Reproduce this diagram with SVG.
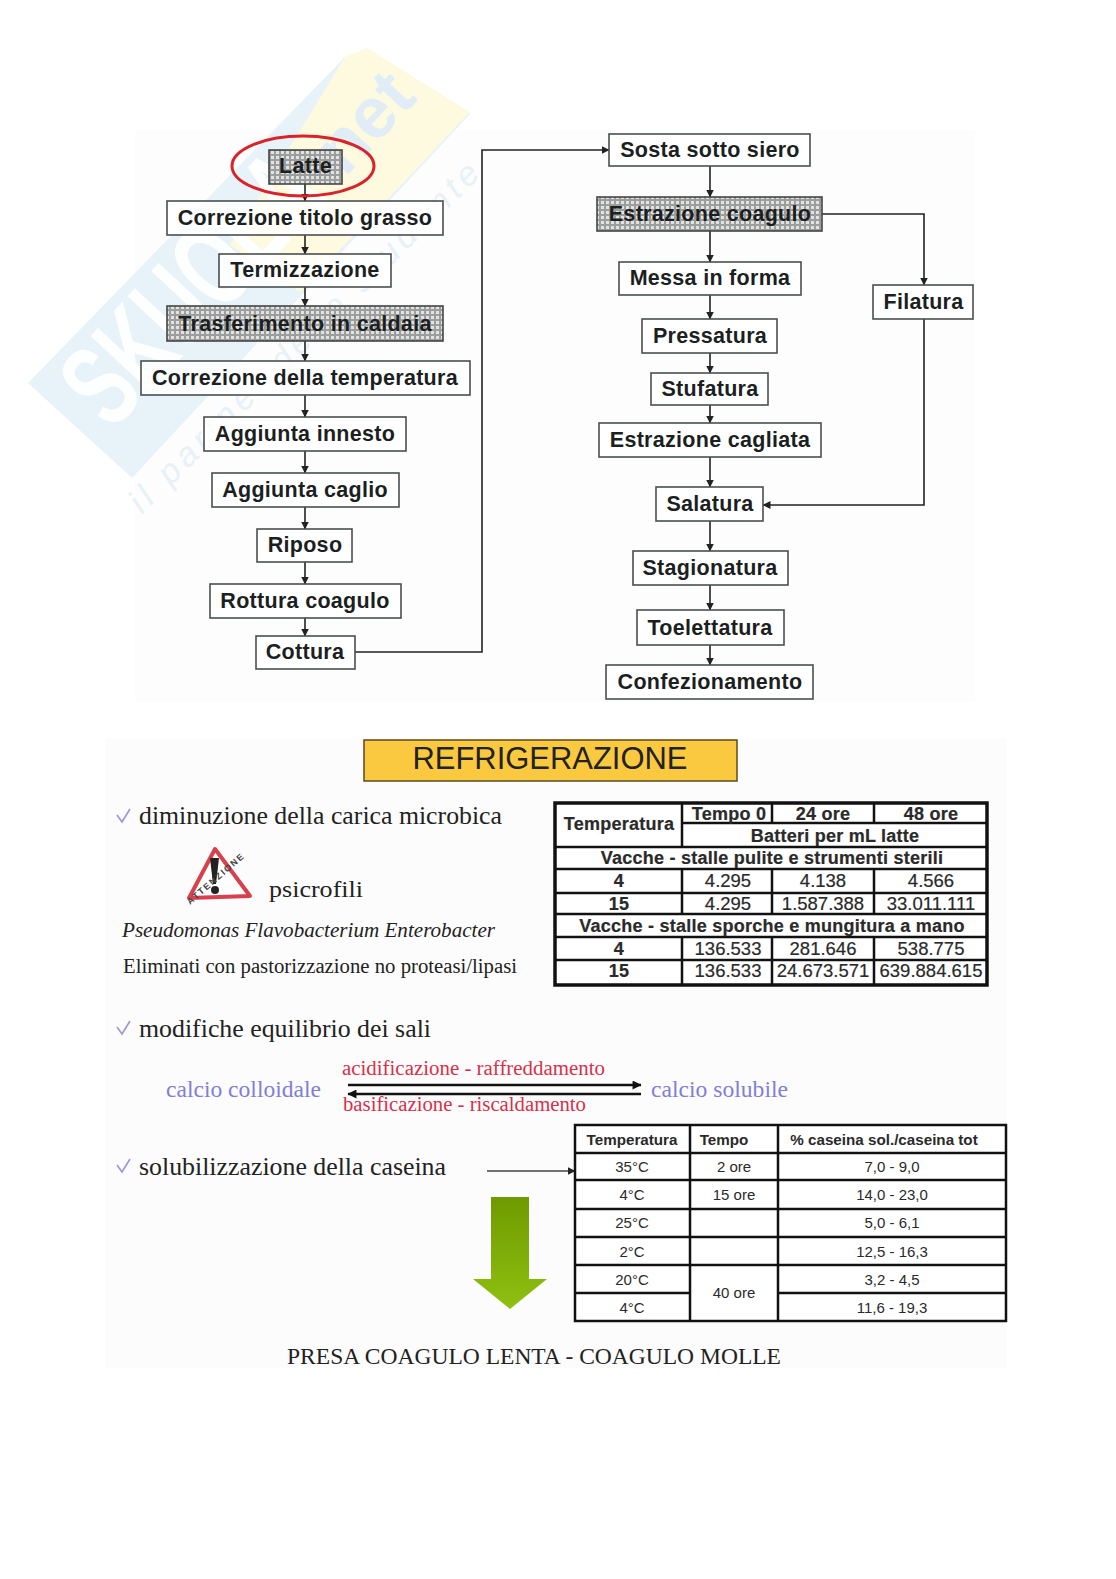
<svg xmlns="http://www.w3.org/2000/svg" width="1116" height="1579" viewBox="0 0 1116 1579">
<style>
.n{fill:#fff;fill-opacity:.82;stroke:#4a4f4f;stroke-width:1.6}
.s{fill:url(#dots);stroke:#444;stroke-width:1.6}
.l{font:bold 21.5px "Liberation Sans",Arial,sans-serif;fill:#1c1f22;text-anchor:middle;letter-spacing:.3px}
.c{fill:none;stroke:#222;stroke-width:1.6}
.a{marker-end:url(#ah)}
.t1{font:18.5px "Liberation Sans",Arial,sans-serif;fill:#2a2a2a;text-anchor:middle;stroke:#2a2a2a;stroke-width:.2}
.b{font-weight:bold;font-size:18px;letter-spacing:.25px}
.t2{font:15px "Liberation Sans",Arial,sans-serif;fill:#2a2a2a;text-anchor:middle}
.h{font-weight:bold;font-size:15.200px}
.r{font:23.5px "Liberation Serif","Times New Roman",serif;fill:#222}
.ck{fill:none;stroke:#9a9ad6;stroke-width:1.700}
.red{font:20px "Liberation Serif","Times New Roman",serif;fill:#d8304a}
.blu{font:23px "Liberation Serif","Times New Roman",serif;fill:#7f7fd8}
.w{font-family:"Liberation Sans",Arial,sans-serif;font-weight:bold}
</style>
<defs>
<pattern id="dots" width="5" height="5" patternUnits="userSpaceOnUse"><rect width="5" height="5" fill="#9c9e9e"/><rect x="1" y="1" width="3" height="3" fill="#e2e2e0"/></pattern>
<marker id="ah" viewBox="0 0 8 8" refX="7.5" refY="4" markerWidth="8" markerHeight="8" markerUnits="userSpaceOnUse" orient="auto"><path d="M0 0L8 4L0 8Z" fill="#222"/></marker>
<marker id="ah2" viewBox="0 0 8 8" refX="7.5" refY="4" markerWidth="10" markerHeight="9" markerUnits="userSpaceOnUse" orient="auto"><path d="M0 0L8 4L0 8Z" fill="#111"/></marker>
<linearGradient id="gr" x1="0" y1="0" x2="0" y2="1"><stop offset="0" stop-color="#6f9a00"/><stop offset="1" stop-color="#8fc010"/></linearGradient>
</defs>
<rect width="1116" height="1579" fill="#fff"/>
<rect x="135" y="130" width="840" height="572" fill="#fdfdfd"/>
<rect x="105" y="738" width="902" height="630" fill="#fcfcfc"/>
<g id="watermark">
<polygon points="28,383 345,57 470,114 132,478" fill="#e8f2f9"/>
<polygon points="345,57 367,48 470,112 300,292 230,245" fill="#fdfadf"/>
<text class="w" transform="translate(112,432) rotate(-47)" font-size="118" fill="#fdfefe" textLength="320" lengthAdjust="spacingAndGlyphs">SKUOLA</text>
<text class="w" transform="translate(345,178) rotate(-47)" font-size="72" fill="#e0edf6">net</text>
<text transform="translate(142,515) rotate(-45)" font-family="Liberation Sans,Arial,sans-serif" font-style="italic" font-size="34" fill="#e8f1f7" textLength="480" lengthAdjust="spacing">il partner dello studente</text>
</g>
<g id="connectors">
<path class="c a" d="M305 184V201"/><path class="c a" d="M305 235V254"/><path class="c a" d="M305 287V306"/><path class="c a" d="M305 341V361"/><path class="c a" d="M305 395V417"/><path class="c a" d="M305 451V473"/><path class="c a" d="M305 507V529"/><path class="c a" d="M305 562V584"/><path class="c a" d="M305 618V636"/>
<path class="c a" d="M355 652H482V150H609"/>
<path class="c a" d="M710 166V197"/><path class="c a" d="M710 231V262"/><path class="c a" d="M710 295V319"/><path class="c a" d="M710 353V373"/><path class="c a" d="M710 405V423"/><path class="c a" d="M710 457V487"/><path class="c a" d="M710 521V551"/><path class="c a" d="M710 585V610"/><path class="c a" d="M710 645V665"/>
<path class="c a" d="M822 214H924V285"/><path class="c a" d="M924 319V505H763"/>
</g>
<g id="n-latte"><rect class="s" x="269" y="150" width="73" height="34"/><text class="l" x="305.500" y="173">Latte</text></g>
<ellipse cx="303" cy="166" rx="71" ry="30" fill="none" stroke="#d8232a" stroke-width="3"/>
<g id="n-titolo"><rect class="n" x="167" y="201" width="276" height="34"/><text class="l" x="305" y="225">Correzione titolo grasso</text></g>
<g id="n-termi"><rect class="n" x="219" y="254" width="172" height="33"/><text class="l" x="305" y="277">Termizzazione</text></g>
<g id="n-trasf"><rect class="s" x="167" y="306" width="276" height="35"/><text class="l" x="305" y="331">Trasferimento in caldaia</text></g>
<g id="n-temp"><rect class="n" x="141" y="361" width="329" height="34"/><text class="l" x="305" y="385">Correzione della temperatura</text></g>
<g id="n-innesto"><rect class="n" x="204" y="417" width="202" height="34"/><text class="l" x="305" y="441">Aggiunta innesto</text></g>
<g id="n-caglio"><rect class="n" x="212" y="473" width="187" height="34"/><text class="l" x="305" y="497">Aggiunta caglio</text></g>
<g id="n-riposo"><rect class="n" x="257" y="529" width="95" height="33"/><text class="l" x="305" y="552">Riposo</text></g>
<g id="n-rottura"><rect class="n" x="210" y="584" width="191" height="34"/><text class="l" x="305" y="608">Rottura coagulo</text></g>
<g id="n-cottura"><rect class="n" x="256" y="636" width="99" height="33"/><text class="l" x="305" y="659">Cottura</text></g>
<g id="n-sosta"><rect class="n" x="609" y="134" width="201" height="32"/><text class="l" x="710" y="157">Sosta sotto siero</text></g>
<g id="n-estr"><rect class="s" x="597" y="197" width="225" height="34"/><text class="l" x="710" y="221">Estrazione coagulo</text></g>
<g id="n-messa"><rect class="n" x="619" y="262" width="182" height="33"/><text class="l" x="710" y="285">Messa in forma</text></g>
<g id="n-press"><rect class="n" x="642" y="319" width="135" height="34"/><text class="l" x="710" y="343">Pressatura</text></g>
<g id="n-stuf"><rect class="n" x="651" y="373" width="117" height="32"/><text class="l" x="710" y="396">Stufatura</text></g>
<g id="n-cagl"><rect class="n" x="599" y="423" width="222" height="34"/><text class="l" x="710" y="447">Estrazione cagliata</text></g>
<g id="n-sal"><rect class="n" x="656" y="487" width="107" height="34"/><text class="l" x="710" y="511">Salatura</text></g>
<g id="n-stag"><rect class="n" x="633" y="551" width="155" height="34"/><text class="l" x="710" y="575">Stagionatura</text></g>
<g id="n-toel"><rect class="n" x="637" y="610" width="147" height="35"/><text class="l" x="710" y="635">Toelettatura</text></g>
<g id="n-conf"><rect class="n" x="606" y="665" width="207" height="34"/><text class="l" x="710" y="689">Confezionamento</text></g>
<g id="n-fil"><rect class="n" x="873" y="285" width="100" height="34"/><text class="l" x="923.500" y="309">Filatura</text></g>

<g id="titolo"><rect x="364" y="740" width="373" height="41" fill="#fbc93f" stroke="#5a4a20" stroke-width="1.500"/><text x="550" y="769" font-family="Liberation Sans,Arial,sans-serif" font-size="32" fill="#222" text-anchor="middle" textLength="275" lengthAdjust="spacingAndGlyphs">REFRIGERAZIONE</text></g>

<path class="ck" d="M117 815L122 822L130 809"/>
<text class="r" x="139" y="824" style="font-size:25px" textLength="363" lengthAdjust="spacingAndGlyphs">diminuzione della carica microbica</text>
<g id="warning"><path d="M189 898L215 849L250 896Z" fill="#fff" stroke="#d8404e" stroke-width="4" stroke-linejoin="round"/><path d="M210 858L219 858L216 884L213 884Z" fill="#222"/><circle cx="215" cy="890" r="4" fill="#222"/><text transform="translate(190,905) rotate(-41)" font-family="Liberation Sans,Arial,sans-serif" font-size="9" font-weight="bold" fill="#444" textLength="72">ATTENZIONE</text></g>
<text class="r" x="269" y="897" textLength="94" lengthAdjust="spacingAndGlyphs">psicrofili</text>
<text class="r" x="122" y="937" style="font-size:20px;font-style:italic" textLength="373" lengthAdjust="spacingAndGlyphs">Pseudomonas Flavobacterium  Enterobacter</text>
<text class="r" x="123" y="973" style="font-size:20px" textLength="394" lengthAdjust="spacingAndGlyphs">Eliminati con pastorizzazione no proteasi/lipasi</text>

<g id="tab1">
<rect x="555" y="803" width="432" height="182" fill="#fff" stroke="#111" stroke-width="3.500"/>
<path d="M682 803V847M682 869V914M682 937V985M772 803V823M772 869V914M772 937V985M874 803V823M874 869V914M874 937V985M682 823H987M555 847H987M555 869H987M555 893H987M555 914H987M555 937H987M555 960H987" fill="none" stroke="#111" stroke-width="2.500"/>
<text class="t1 b" x="619" y="830">Temperatura</text><text class="t1 b" x="729" y="820">Tempo 0</text><text class="t1 b" x="823" y="820">24 ore</text><text class="t1 b" x="931" y="820">48 ore</text>
<text class="t1 b" x="835" y="842">Batteri per mL latte</text>
<text class="t1 b" x="772" y="864">Vacche - stalle pulite e strumenti sterili</text>
<text class="t1 b" x="619" y="887">4</text><text class="t1" x="728" y="887">4.295</text><text class="t1" x="823" y="887">4.138</text><text class="t1" x="931" y="887">4.566</text>
<text class="t1 b" x="619" y="910">15</text><text class="t1" x="728" y="910">4.295</text><text class="t1" x="823" y="910">1.587.388</text><text class="t1" x="931" y="910">33.011.111</text>
<text class="t1 b" x="772" y="932">Vacche - stalle sporche e mungitura a mano</text>
<text class="t1 b" x="619" y="955">4</text><text class="t1" x="728" y="955">136.533</text><text class="t1" x="823" y="955">281.646</text><text class="t1" x="931" y="955">538.775</text>
<text class="t1 b" x="619" y="977">15</text><text class="t1" x="728" y="977">136.533</text><text class="t1" x="823" y="977">24.673.571</text><text class="t1" x="931" y="977">639.884.615</text>
</g>

<path class="ck" d="M117 1027L122 1034L130 1021"/>
<text class="r" x="139" y="1037" style="font-size:25px" textLength="292" lengthAdjust="spacingAndGlyphs">modifiche equilibrio dei sali</text>
<text class="blu" x="166" y="1097" textLength="155" lengthAdjust="spacingAndGlyphs">calcio colloidale</text>
<text class="red" x="342" y="1075" textLength="263" lengthAdjust="spacingAndGlyphs">acidificazione - raffreddamento</text>
<text class="red" x="343" y="1111" textLength="243" lengthAdjust="spacingAndGlyphs">basificazione - riscaldamento</text>
<path d="M348 1085H641" stroke="#111" stroke-width="2.500" marker-end="url(#ah2)"/>
<path d="M641 1094H348" stroke="#111" stroke-width="2.500" marker-end="url(#ah2)"/>
<text class="blu" x="651" y="1097" textLength="137" lengthAdjust="spacingAndGlyphs">calcio solubile</text>

<path class="ck" d="M117 1165L122 1172L130 1159"/>
<text class="r" x="139" y="1175" style="font-size:25px" textLength="307" lengthAdjust="spacingAndGlyphs">solubilizzazione della caseina</text>
<path d="M487 1171H575" stroke="#444" stroke-width="1.600" marker-end="url(#ah)" fill="none"/>
<g id="tab2">
<rect x="575" y="1125" width="431" height="196" fill="#fff" stroke="#111" stroke-width="2.500"/>
<path d="M690 1125V1321M778 1125V1321M575 1153H1006M575 1180H1006M575 1209H1006M575 1237H1006M575 1265H1006M575 1293H690M778 1293H1006" fill="none" stroke="#111" stroke-width="2.500"/>
<text class="t2 h" x="632" y="1145">Temperatura</text><text class="t2 h" x="724" y="1145">Tempo</text><text class="t2 h" x="884" y="1145">% caseina sol./caseina tot</text>
<text class="t2" x="632" y="1172">35°C</text><text class="t2" x="734" y="1172">2 ore</text><text class="t2" x="892" y="1172">7,0 - 9,0</text>
<text class="t2" x="632" y="1200">4°C</text><text class="t2" x="734" y="1200">15 ore</text><text class="t2" x="892" y="1200">14,0 - 23,0</text>
<text class="t2" x="632" y="1228">25°C</text><text class="t2" x="892" y="1228">5,0 - 6,1</text>
<text class="t2" x="632" y="1257">2°C</text><text class="t2" x="892" y="1257">12,5 - 16,3</text>
<text class="t2" x="632" y="1285">20°C</text><text class="t2" x="892" y="1285">3,2 - 4,5</text>
<text class="t2" x="734" y="1298">40 ore</text>
<text class="t2" x="632" y="1313">4°C</text><text class="t2" x="892" y="1313">11,6 - 19,3</text>
</g>
<polygon points="491,1197 529,1197 529,1279 547,1279 510,1309 473,1279 491,1279" fill="url(#gr)"/>
<text x="287" y="1364" font-family="Liberation Serif,Times New Roman,serif" font-size="23" fill="#222" textLength="494" lengthAdjust="spacingAndGlyphs">PRESA COAGULO LENTA - COAGULO MOLLE</text>
</svg>
